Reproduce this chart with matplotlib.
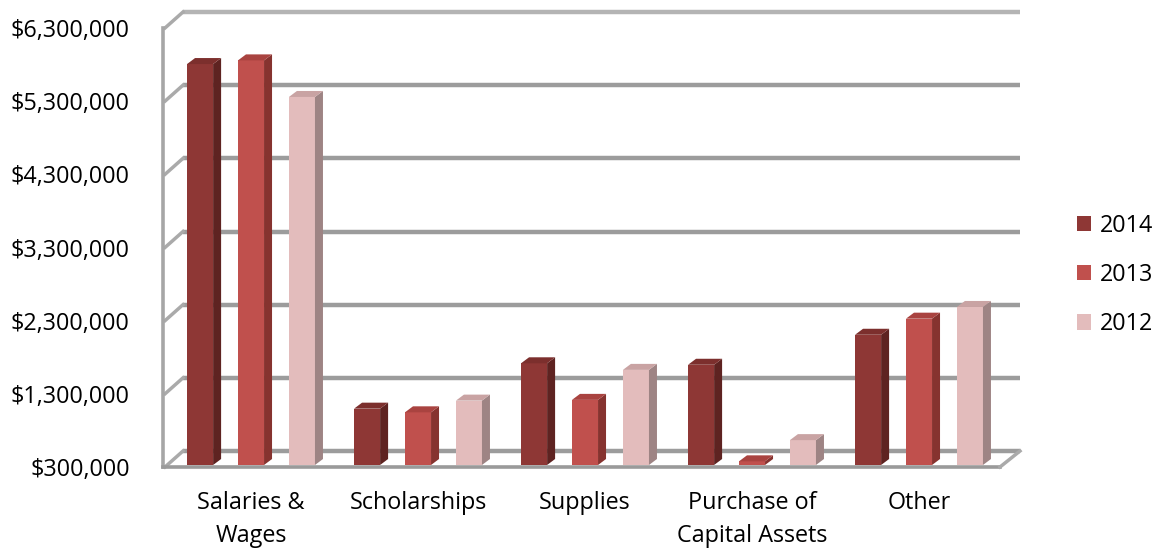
import matplotlib
matplotlib.use("Agg")
import matplotlib.pyplot as plt
import matplotlib.transforms as mtransforms
from matplotlib.patches import Polygon, Patch
from matplotlib.lines import Line2D
import numpy as np

categories = ["Salaries &\nWages", "Scholarships", "Supplies", "Purchase of\nCapital Assets", "Other"]
series_names = ["2014", "2013", "2012"]
values_2014 = [5780000, 1070000, 1690000, 1670000, 2080000]
values_2013 = [5830000, 1020000, 1190000, 350000, 2300000]
values_2012 = [5330000, 1180000, 1600000, 640000, 2460000]
y_ticks = [300000, 1300000, 2300000, 3300000, 4300000, 5300000, 6300000]
y_tick_labels = ["$300,000", "$1,300,000", "$2,300,000", "$3,300,000", "$4,300,000", "$5,300,000", "$6,300,000"]

front_colors = ["#8E3735", "#C0504D", "#E3BCBC"]
side_colors = ["#5E2321", "#86332F", "#9E8484"]
top_colors = ["#7C2F2D", "#A94340", "#C9A3A3"]

plt.rcParams['font.family'] = ['Open Sans', 'DejaVu Sans']
FS = 16.8

W, H = 1161, 548
fig = plt.figure(figsize=(W / 100, H / 100), dpi=100)
left_px, right_px, top_px, bot_px = 163, 1000, 28, 467
ax = fig.add_axes([left_px / W, (H - bot_px) / H, (right_px - left_px) / W, (bot_px - top_px) / H])
ax.set_xlim(-0.527, 4.485)
ax.set_ylim(y_ticks[0], y_ticks[-1])
for s in ax.spines.values():
    s.set_visible(False)

DX, DY = 20, 16  # back-wall depth offset (pixels)
back = mtransforms.offset_copy(ax.transData, fig=fig, x=DX, y=DY, units='dots')
xl = ax.get_xlim()

# back wall gridlines
for i, t in enumerate(y_ticks):
    col = "#B4B4B4" if t == y_ticks[-1] else "#9C9C9C"
    ax.add_line(Line2D([xl[0], xl[1]], [t, t], transform=back, color=col, lw=3.2,
                       solid_capstyle='butt', clip_on=False, zorder=1))
    # diagonal tick from front axis to back wall
    p0 = ax.transData.transform((xl[0], t))
    ax.add_line(Line2D([p0[0] + 2, p0[0] + DX], [p0[1], p0[1] + DY], transform=None,
                       color="#AAAAAA", lw=2.5, clip_on=False, zorder=1))

# front left axis line and bottom floor edge
ax.add_line(Line2D([xl[0], xl[0]], [y_ticks[0], y_ticks[-1]], color="#A6A6A6", lw=2.6,
                   clip_on=False, zorder=5))
ax.add_line(Line2D([xl[0], xl[1]], [y_ticks[0], y_ticks[0]], color="#9A9A9A", lw=2.6,
                   clip_on=False, zorder=5))
pr = ax.transData.transform((xl[1], y_ticks[0]))
ax.add_line(Line2D([pr[0], pr[0] + DX], [pr[1], pr[1] + DY], transform=None,
                   color="#AAAAAA", lw=2.5, clip_on=False, zorder=5))

# bars
x = np.arange(len(categories))
offset = 0.305
width = 0.156
bar_tr = mtransforms.offset_copy(ax.transData, fig=fig, x=0, y=2, units='dots')
bdx, bdy = 8, 6
base = y_ticks[0]
for k, (vals, name) in enumerate(zip([values_2014, values_2013, values_2012], series_names)):
    xs = x + (k - 1) * offset
    heights = [v - base for v in vals]
    bars = ax.bar(xs, heights, width=width, bottom=base, color=front_colors[k],
                  transform=bar_tr, zorder=3, label=name, linewidth=0)
    for r in bars:
        x0, y0 = r.get_x(), r.get_y()
        x1, y1 = x0 + r.get_width(), y0 + r.get_height()
        (X0, Y0), (X1, Y1) = bar_tr.transform([(x0, y0), (x1, y1)])
        side = Polygon([(X1, Y0), (X1, Y1), (X1 + bdx, Y1 + bdy), (X1 + bdx, Y0 + bdy)],
                       closed=True, transform=None, facecolor=side_colors[k],
                       edgecolor='none', zorder=3)
        top = Polygon([(X0, Y1), (X1, Y1), (X1 + bdx, Y1 + bdy), (X0 + bdx, Y1 + bdy)],
                      closed=True, transform=None, facecolor=top_colors[k],
                      edgecolor='none', zorder=3)
        fig.add_artist(side)
        fig.add_artist(top)

# ticks
ax.set_yticks(y_ticks)
ax.set_yticklabels(y_tick_labels, fontsize=FS)
ax.set_xticks(x)
ax.set_xticklabels(categories, fontsize=FS, linespacing=1.5)
ax.tick_params(axis='y', length=0, pad=24)
ax.tick_params(axis='x', length=0, pad=17)
for lab in ax.get_xticklabels():
    lab.set_verticalalignment('top')

handles = [Patch(facecolor=c, edgecolor='none') for c in front_colors]
fig.legend(handles, series_names, loc='center left', bbox_to_anchor=(1077 / W, 1 - 275 / H),
           frameon=False, fontsize=FS, handlelength=0.62, handleheight=0.62,
           handletextpad=0.35, labelspacing=1.08, borderpad=0, borderaxespad=0)

fig.savefig("out.png", dpi=100)
